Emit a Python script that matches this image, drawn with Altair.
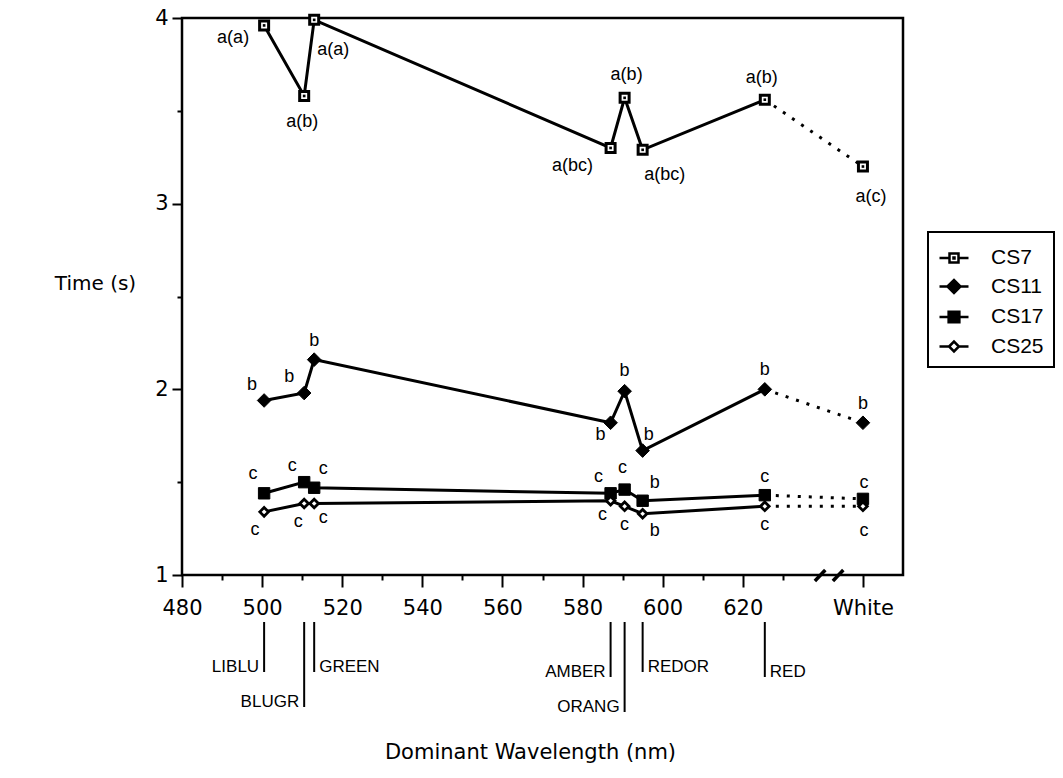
import altair as alt
import pandas as pd

# Signal colours and their dominant wavelengths (nm)
COLOUR_NAMES = ["LIBLU", "BLUGR", "GREEN", "AMBER", "ORANG", "REDOR", "RED"]
WAVELENGTHS = [500.5, 510.5, 513.0, 587.0, 590.5, 595.0, 625.5]
WHITE_POS = 650  # where the White condition sits, past the axis break

SERIES = ["CS7", "CS11", "CS17", "CS25"]

# Mean response time (s) per colour; the last value of each list is White
CS7 = [3.96, 3.58, 3.99, 3.30, 3.57, 3.29, 3.56, 3.20]
CS11 = [1.94, 1.98, 2.16, 1.82, 1.99, 1.67, 2.00, 1.82]
CS17 = [1.44, 1.50, 1.47, 1.44, 1.46, 1.40, 1.43, 1.41]
CS25 = [1.34, 1.385, 1.385, 1.40, 1.37, 1.33, 1.37, 1.37]

# Significance-group letters printed next to each point
CS7_GROUPS = ["a(a)", "a(b)", "a(a)", "a(bc)", "a(b)", "a(bc)", "a(b)", "a(c)"]
CS11_GROUPS = ["b", "b", "b", "b", "b", "b", "b", "b"]
CS17_GROUPS = ["c", "c", "c", "c", "c", "b", "c", "c"]
CS25_GROUPS = ["c", "c", "c", "c", "c", "b", "c", "c"]

X_MAJOR = [480, 500, 520, 540, 560, 580, 600, 620]
X_MINOR = [490, 510, 530, 550, 570, 590, 610, 630]
Y_MAJOR = [1, 2, 3, 4]
Y_MINOR = [1.5, 2.5, 3.5]
BREAK_AT = [638.0, 642.5]

# ---- layout / style -------------------------------------------------------
W, H = 721, 557
AXIS_FONT = "DejaVu Sans"
TEXT_FONT = "Liberation Sans"

# pixel offsets (dx, dy) of each group letter relative to its point
LABEL_OFFSETS = {
    "CS7": [(-31, 13), (-2, 26), (19, 30), (-38, 18), (2, -23), (22, 25), (-3, -22), (8, 30)],
    "CS11": [(-12, -15), (-15, -16), (0, -19), (-10, 12), (0, -20), (6, -16), (0, -19), (0, -19)],
    "CS17": [(-11, -19), (-12, -16), (9, -19), (-12, -16), (-2, -22), (12, -18), (0, -18), (1, -16)],
    "CS25": [(-9, 18), (-6, 18), (9, 14), (-8, 14), (0, 19), (12, 17), (0, 19), (1, 25)],
}

# colour-name tags under the axis: side of the tick and how far down it reaches
TAG_STYLE = {
    "LIBLU": ("left", 97), "BLUGR": ("left", 132), "GREEN": ("right", 97),
    "AMBER": ("left", 102), "ORANG": ("left", 137), "REDOR": ("right", 97),
    "RED": ("right", 102),
}

MARKERS = {
    "CS7": dict(shape="square", size=81, fill="white", stroke="black", strokeWidth=3),
    "CS11": dict(shape="diamond", size=185, fill="black", stroke="black", strokeWidth=1),
    "CS17": dict(shape="square", size=130, fill="black", stroke="black", strokeWidth=1),
    "CS25": dict(shape="diamond", size=75, fill="white", stroke="black", strokeWidth=2.8),
}

LEGEND_PATHS = [
    "M-1,0H-0.31M0.31,0H1M-0.31,-0.31H0.31V0.31H-0.31ZM-0.035,-0.035H0.035V0.035H-0.035Z",
    "M-1,0H1M-0.45,0L0,-0.45L0.45,0L0,0.45Z",
    "M-1,0H1M-0.37,-0.37H0.37V0.37H-0.37Z",
    "M-1,0H-0.34M0.34,0H1M-0.34,0L0,-0.34L0.34,0L0,0.34Z",
]
LEGEND_FILLS = ["white", "black", "black", "white"]

# ---- tables ---------------------------------------------------------------
rows = []
for s, vals, groups in zip(SERIES, [CS7, CS11, CS17, CS25],
                           [CS7_GROUPS, CS11_GROUPS, CS17_GROUPS, CS25_GROUPS]):
    for i, (v, g) in enumerate(zip(vals, groups)):
        x = WAVELENGTHS[i] if i < len(WAVELENGTHS) else WHITE_POS
        rows.append({"series": s, "idx": i, "x": x, "y": v, "group": g})
df = pd.DataFrame(rows)

tags = pd.DataFrame({"x": WAVELENGTHS, "name": COLOUR_NAMES})
breaks = pd.DataFrame({"x": BREAK_AT})

# ---- scales & axes --------------------------------------------------------
x_scale = alt.Scale(domain=[480, 660], nice=False, zero=False)
y_scale = alt.Scale(domain=[1, 4], nice=False, zero=False)

x_axis = alt.Axis(
    values=X_MAJOR + X_MINOR + [WHITE_POS],
    labelExpr=f"datum.value == {WHITE_POS} ? 'White' : (datum.value % 20 == 0 ? datum.label : '')",
    tickSize={"condition": {"test": f"datum.value % 20 == 0 || datum.value == {WHITE_POS}",
                            "value": 12}, "value": 5},
    tickWidth=2, tickColor="black", domain=False, grid=False,
    labelFont=AXIS_FONT, labelFontSize=21, labelColor="black", labelPadding=10,
    labelOverlap=False, labelFlush=False, labelBaseline="top",
    title="Dominant Wavelength (nm)", titleFont=AXIS_FONT, titleFontSize=21,
    titleFontWeight="normal", titleColor="black", titleX=348, titleY=177,
    titleAlign="center", titleBaseline="middle",
)
y_axis = alt.Axis(
    values=Y_MAJOR + Y_MINOR,
    labelExpr="datum.value % 1 == 0 ? format(datum.value, 'd') : ''",
    tickSize={"condition": {"test": "datum.value % 1 == 0", "value": 10}, "value": 5},
    tickWidth=2, tickColor="black", domain=False, grid=False,
    labelFont=AXIS_FONT, labelFontSize=21, labelColor="black", labelPadding=4,
    labelOverlap=False, labelFlush=False,
    title="Time (s)", titleFont=AXIS_FONT, titleFontSize=20, titleFontWeight="normal",
    titleColor="black", titleAngle=0, titleX=-87, titleY=265,
    titleAlign="center", titleBaseline="middle",
)

X = alt.X("x:Q", scale=x_scale, axis=x_axis)
Y = alt.Y("y:Q", scale=y_scale, axis=y_axis)

base = alt.Chart(df)

solid = base.transform_filter(alt.datum.idx <= 6).mark_line(
    color="black", strokeWidth=3).encode(x=X, y=Y, detail="series:N")
dotted = base.transform_filter(alt.datum.idx >= 6).mark_line(
    color="black", strokeWidth=3, strokeDash=[3, 8]).encode(x=X, y=Y, detail="series:N")

layers = [solid, dotted]

for s in SERIES:
    st = MARKERS[s]
    layers.append(
        base.transform_filter(alt.datum.series == s).mark_point(
            filled=True, opacity=1, **st).encode(x=X, y=Y)
    )
# centre dot of the CS7 squares
layers.append(
    base.transform_filter(alt.datum.series == "CS7").mark_point(
        shape="square", filled=True, fill="black", size=7, strokeWidth=0, opacity=1
    ).encode(x=X, y=Y)
)

# group letters
for s in SERIES:
    for i, (dx, dy) in enumerate(LABEL_OFFSETS[s]):
        layers.append(
            base.transform_filter((alt.datum.series == s) & (alt.datum.idx == i)).mark_text(
                font=TEXT_FONT, fontSize=18, color="black", align="center",
                baseline="middle", dx=dx, dy=dy,
            ).encode(x=X, y=Y, text="group:N")
        )

# colour-name tags below the axis
for name in COLOUR_NAMES:
    side, depth = TAG_STYLE[name]
    tag = alt.Chart(tags).transform_filter(alt.datum.name == name)
    layers.append(
        tag.mark_rule(color="black", strokeWidth=2).encode(
            x=X, y=alt.value(H + 47), y2=alt.value(H + depth))
    )
    layers.append(
        tag.mark_text(
            font=TEXT_FONT, fontSize=17, color="black", baseline="alphabetic",
            align="right" if side == "left" else "left",
            dx=-5 if side == "left" else 5,
        ).encode(x=X, y=alt.value(H + depth), text="name:N")
    )

# axis break marks
layers.append(
    alt.Chart(breaks).transform_calculate(x2="datum.x + 2.6").mark_rule(
        color="black", strokeWidth=3.5).encode(
        x=X, x2="x2:Q", y=alt.value(H + 6), y2=alt.value(H - 5))
)

# legend (symbols only, no marks drawn)
legend_opts = dict(
    orient="none", legendX=746, legendY=214, title=None,
    symbolSize=841, symbolStrokeWidth=2.5,
    labelFont=TEXT_FONT, labelFontSize=21, labelColor="black", labelOffset=21,
    rowPadding=2.5, padding=10, strokeColor="black",
)
layers.append(
    base.transform_filter("false").mark_point(
        filled=True, strokeWidth=2.5, opacity=1).encode(
        shape=alt.Shape("series:N", scale=alt.Scale(domain=SERIES, range=LEGEND_PATHS),
                        legend=alt.Legend(**legend_opts)),
        fill=alt.Fill("series:N", scale=alt.Scale(domain=SERIES, range=LEGEND_FILLS),
                      legend=alt.Legend(**legend_opts)),
        stroke=alt.Stroke("series:N",
                          scale=alt.Scale(domain=SERIES, range=["black", "black", "black", "black"]),
                          legend=alt.Legend(**legend_opts)),
    )
)

chart = alt.layer(*layers).properties(
    width=W, height=H,
    padding={"left": 182, "top": 18, "right": 160, "bottom": 203},
    autosize=alt.AutoSizeParams(type="none"),
    background="white",
).configure_view(stroke="black", strokeWidth=2.5).configure_legend(strokeWidth=2)

chart.save("out.html", embed_options={"renderer": "svg", "actions": False})
